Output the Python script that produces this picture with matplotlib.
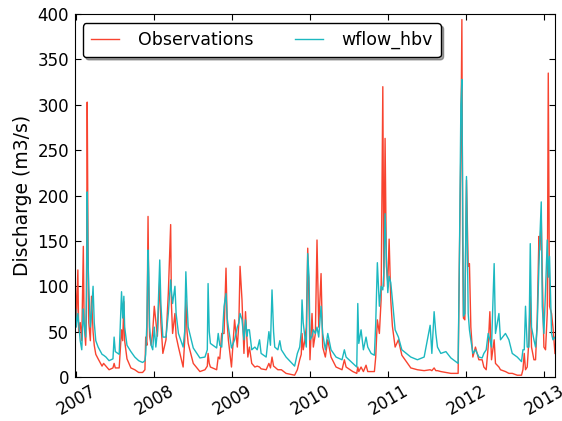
import numpy as np
import pandas as pd
import matplotlib
matplotlib.use("Agg")
import matplotlib.pyplot as plt
import matplotlib.dates as mdates

t_year = [
    2006.98, 2006.99, 2007.00, 2007.02, 2007.03, 2007.05, 2007.07, 2007.09, 2007.10, 2007.12,
    2007.13, 2007.14, 2007.15, 2007.16, 2007.18, 2007.195, 2007.215, 2007.23, 2007.25, 2007.28,
    2007.33, 2007.35, 2007.38, 2007.42, 2007.47, 2007.485, 2007.50, 2007.55, 2007.58, 2007.595,
    2007.61, 2007.62, 2007.65, 2007.70, 2007.75, 2007.80, 2007.85, 2007.88, 2007.89, 2007.905,
    2007.92, 2007.93, 2007.94, 2007.96, 2007.98, 2008.00, 2008.02, 2008.04, 2008.07, 2008.085,
    2008.11, 2008.15, 2008.18, 2008.21, 2008.22, 2008.235, 2008.265, 2008.28, 2008.31, 2008.37,
    2008.39, 2008.405, 2008.42, 2008.435, 2008.50, 2008.585, 2008.65, 2008.68, 2008.69, 2008.705,
    2008.72, 2008.80, 2008.82, 2008.84, 2008.865, 2008.895, 2008.92, 2008.935, 2008.95, 2008.99,
    2009.03, 2009.065, 2009.085, 2009.10, 2009.125, 2009.15, 2009.17, 2009.19, 2009.20, 2009.22,
    2009.25, 2009.29, 2009.32, 2009.35, 2009.37, 2009.435, 2009.47, 2009.49, 2009.51, 2009.53,
    2009.545, 2009.585, 2009.61, 2009.63, 2009.69, 2009.80, 2009.835, 2009.865, 2009.885, 2009.895,
    2009.91, 2009.93, 2009.95, 2009.968, 2009.985, 2009.997, 2010.023, 2010.040, 2010.066, 2010.087,
    2010.109, 2010.139, 2010.160, 2010.194, 2010.225, 2010.267, 2010.331, 2010.408, 2010.438, 2010.460,
    2010.546, 2010.597, 2010.610, 2010.623, 2010.652, 2010.682, 2010.716, 2010.738, 2010.781, 2010.823,
    2010.840, 2010.861, 2010.887, 2010.909, 2010.931, 2010.944, 2010.960, 2010.977, 2010.995, 2011.012,
    2011.033, 2011.054, 2011.089, 2011.131, 2011.175, 2011.290, 2011.375, 2011.461, 2011.538, 2011.560,
    2011.589, 2011.611, 2011.632, 2011.675, 2011.740, 2011.804, 2011.897, 2011.914, 2011.932, 2011.945,
    2011.955, 2011.965, 2011.983, 2012.004, 2012.026, 2012.042, 2012.060, 2012.086, 2012.119, 2012.163,
    2012.205, 2012.227, 2012.257, 2012.282, 2012.304, 2012.325, 2012.359, 2012.376, 2012.420, 2012.440,
    2012.504, 2012.548, 2012.591, 2012.655, 2012.710, 2012.728, 2012.745, 2012.761, 2012.783, 2012.805,
    2012.822, 2012.838, 2012.869, 2012.890, 2012.911, 2012.933, 2012.946, 2012.963, 2012.976, 2012.997,
    2013.018, 2013.040, 2013.053, 2013.069, 2013.095, 2013.113, 2013.139,
]
observations = [
    55, 98, 60, 118, 50, 60, 40, 144, 60, 35,
    70, 303, 150, 60, 40, 89, 50, 35, 25, 20,
    12, 15, 12, 8, 10, 15, 10, 10, 52, 40,
    83, 40, 20, 10, 8, 5, 5, 8, 44, 35,
    177, 90, 45, 35, 50, 78, 61, 45, 107, 60,
    26, 41, 92, 168, 80, 48, 70, 45, 33, 11,
    40, 85, 50, 37, 15, 6, 8, 12, 26, 15,
    11, 8, 22, 20, 48, 48, 120, 60, 41, 11,
    63, 33, 60, 122, 85, 26, 72, 40, 22, 33,
    15, 11, 12, 11, 9, 8, 15, 10, 22, 12,
    11, 8, 8, 8, 4, 2, 8, 19, 25, 48,
    30, 40, 55, 142, 80, 19, 70, 33, 48, 151,
    55, 114, 33, 22, 41, 22, 11, 8, 19, 11,
    6, 4, 11, 6, 11, 6, 13, 6, 6, 6,
    22, 63, 48, 85, 320, 100, 263, 122, 104, 152,
    85, 56, 33, 41, 24, 10, 8, 7, 8, 7,
    10, 7, 7, 6, 5, 4, 4, 136, 250, 394,
    150, 65, 63, 217, 122, 125, 55, 22, 33, 19,
    19, 11, 8, 33, 72, 19, 41, 15, 11, 8,
    6, 4, 4, 2, 2, 8, 26, 8, 11, 41,
    89, 33, 19, 19, 63, 155, 140, 177, 114, 33,
    30, 70, 335, 78, 70, 55, 26,
]
wflow_hbv = [
    45, 75, 55, 70, 60, 40, 30, 75, 60, 44,
    90, 204, 130, 100, 55, 70, 100, 60, 40, 33,
    25, 24, 22, 18, 20, 44, 28, 25, 94, 65,
    89, 55, 35, 28, 22, 18, 16, 18, 25, 60,
    140, 110, 55, 35, 30, 55, 33, 50, 129, 80,
    44, 44, 70, 107, 95, 81, 100, 70, 48, 33,
    50, 116, 80, 55, 32, 21, 22, 30, 103, 50,
    37, 32, 48, 35, 33, 78, 92, 65, 55, 32,
    41, 55, 60, 70, 63, 41, 63, 45, 52, 52,
    30, 33, 30, 41, 26, 22, 50, 35, 96, 50,
    33, 30, 40, 30, 22, 12, 26, 33, 50, 85,
    60, 45, 33, 136, 110, 41, 45, 52, 48, 55,
    44, 78, 48, 30, 48, 30, 22, 19, 30, 22,
    15, 11, 81, 37, 52, 30, 44, 33, 26, 24,
    59, 126, 78, 100, 96, 115, 180, 130, 93, 111,
    104, 85, 52, 44, 30, 22, 19, 22, 57, 26,
    72, 48, 33, 26, 28, 21, 15, 136, 300, 328,
    200, 67, 70, 221, 70, 52, 41, 26, 30, 22,
    21, 26, 30, 48, 41, 33, 125, 48, 70, 41,
    48, 41, 26, 22, 17, 30, 30, 78, 33, 33,
    147, 55, 41, 33, 55, 122, 155, 193, 78, 48,
    96, 151, 110, 133, 48, 41, 44,
]

t = np.array(t_year)
dates = pd.Timestamp("2007-01-01") + pd.to_timedelta((t - 2007) * 365.25, unit="D")

plt.rcParams["font.family"] = "DejaVu Sans"
fig = plt.figure(figsize=(5.62, 4.21), dpi=100)
ax = fig.add_axes([0.133, 0.1045, 0.8545, 0.862])

ax.plot(dates, observations, color="#f8432f", lw=1.0, label="Observations")
ax.plot(dates, wflow_hbv, color="#1cb8c0", lw=1.0, label="wflow_hbv")

ax.set_xlim(dates[0], dates[-1])
ax.set_ylim(0, 400)
ax.set_yticks(range(0, 401, 50))
ax.xaxis.set_major_locator(mdates.YearLocator())
ax.xaxis.set_major_formatter(mdates.DateFormatter("%Y"))
ax.tick_params(direction="in", top=True, right=True, length=4, labelsize=12)
ax.tick_params(axis="y", pad=4)
for lab in ax.get_xticklabels():
    lab.set_rotation(30)
    lab.set_ha("center")
ax.set_ylabel("Discharge (m3/s)", fontsize=13.5)

leg = ax.legend(ncol=2, loc="upper left", bbox_to_anchor=(0.017, 0.975),
                borderaxespad=0, fontsize=12.5, fancybox=True, shadow=True,
                borderpad=0.45, handlelength=1.6, handletextpad=1.1,
                columnspacing=2.4, framealpha=1)
leg.get_frame().set_edgecolor("black")

fig.savefig("out.png", dpi=100)
